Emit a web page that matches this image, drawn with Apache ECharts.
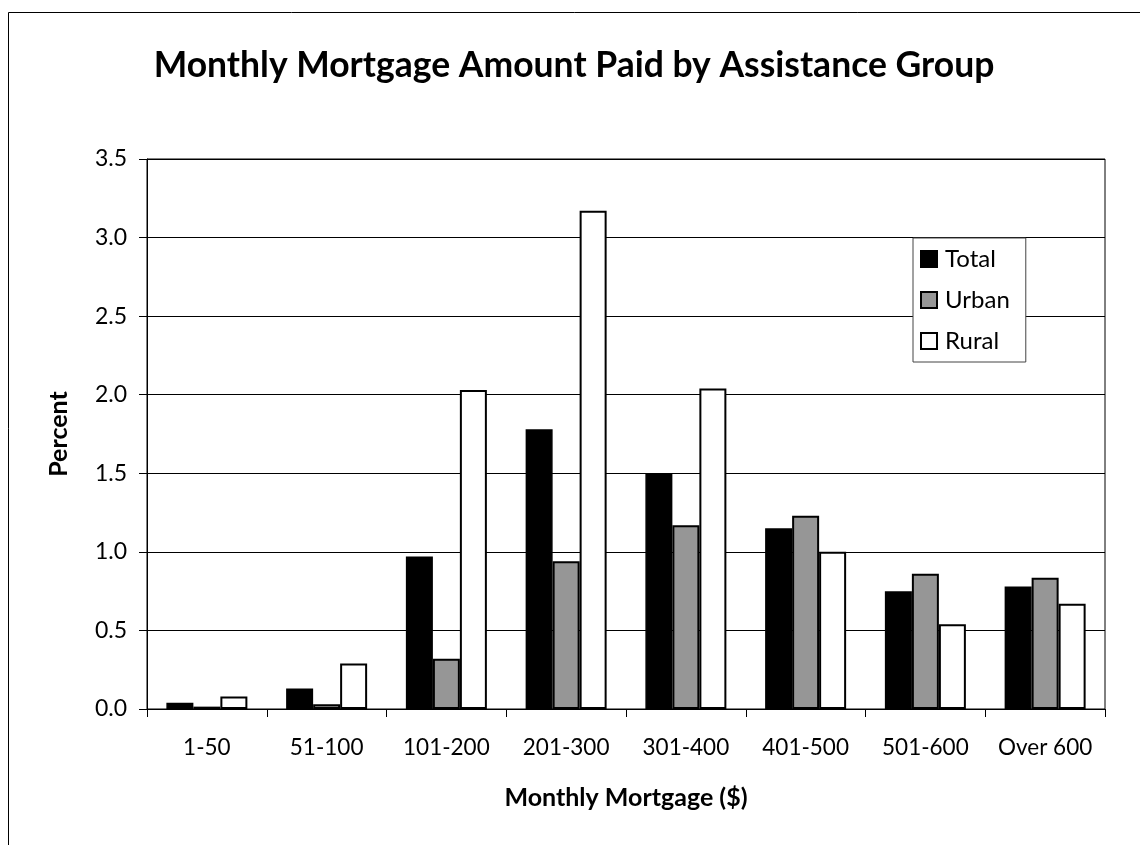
<!DOCTYPE html>
<html>
<head>
<meta charset="utf-8">
<script src="https://cdn.jsdelivr.net/npm/echarts@6/dist/echarts.min.js"></script>
<style>
html,body{margin:0;padding:0;background:#fff;}
#chart{width:1140px;height:845px;}
</style>
</head>
<body>
<div id="chart"></div>
<script>
var categories = ['1-50','51-100','101-200','201-300','301-400','401-500','501-600','Over 600'];
var totalValues = [0.04, 0.13, 0.97, 1.78, 1.50, 1.15, 0.75, 0.78];
var urbanValues = [0.015, 0.03, 0.32, 0.94, 1.17, 1.23, 0.86, 0.835];
var ruralValues = [0.08, 0.29, 2.03, 3.17, 2.04, 1.00, 0.54, 0.67];
var yTicks = ['0.0','0.5','1.0','1.5','2.0','2.5','3.0','3.5'];

var FONT = 'Lato';
var chart = echarts.init(document.getElementById('chart'), null, {renderer:'canvas'});
chart.setOption({
  backgroundColor: '#fff',
  animation: false,
  textStyle: {fontFamily: FONT, color: '#000'},
  title: {
    text: 'Monthly Mortgage Amount Paid by Assistance Group',
    left: 569, top: 43, textAlign: 'center',
    textStyle: {fontFamily: FONT, fontWeight: 'bold', fontSize: 35.5, color: '#000'}
  },
  graphic: [
    {type:'line', shape:{x1:8.5,y1:12.5,x2:1140,y2:12.5}, style:{stroke:'#000',lineWidth:1}},
    {type:'line', shape:{x1:8.5,y1:12.5,x2:8.5,y2:845}, style:{stroke:'#000',lineWidth:1}}
  ],
  legend: {
    orient: 'vertical',
    left: 913, top: 238,
    padding: [9, 16, 9, 7],
    itemGap: 17,
    itemWidth: 16, itemHeight: 16,
    icon: 'rect',
    borderColor: '#444', borderWidth: 1,
    backgroundColor: '#fff',
    textStyle: {fontFamily: FONT, fontSize: 24, color: '#000', padding: [0,0,0,3]},
    data: ['Total','Urban','Rural']
  },
  grid: {
    left: 147, top: 159, right: 35, bottom: 136,
    show: true, borderColor: '#000', borderWidth: 1, backgroundColor: '#fff'
  },
  xAxis: {
    type: 'category',
    data: categories,
    name: 'Monthly Mortgage ($)',
    nameLocation: 'middle',
    nameGap: 76,
    nameTextStyle: {fontFamily: FONT, fontWeight: 'bold', fontSize: 25, color: '#000'},
    axisLine: {lineStyle: {color: '#000', width: 1}},
    axisTick: {show: true, interval: 0, length: 8, lineStyle: {color: '#000'}},
    axisLabel: {interval: 0, margin: 27, fontFamily: FONT, fontSize: 22.5, color: '#000'}
  },
  yAxis: {
    type: 'value',
    min: 0, max: 3.5, interval: 0.5,
    name: 'Percent',
    nameLocation: 'middle',
    nameGap: 76,
    nameRotate: 90,
    nameTextStyle: {fontFamily: FONT, fontWeight: 'bold', fontSize: 25, color: '#000'},
    axisLine: {show: true, lineStyle: {color: '#000', width: 1}},
    axisTick: {show: true, length: 8, lineStyle: {color: '#000'}},
    axisLabel: {margin: 20, fontFamily: FONT, fontSize: 23, color: '#000',
      formatter: function(v){ return yTicks[Math.round(v/0.5)] || v.toFixed(1); }},
    splitLine: {show: true, lineStyle: {color: '#000', width: 1}}
  },
  series: [
    {name:'Total', type:'bar', data: totalValues, barWidth: 27, barGap: '0%',
     itemStyle:{color:'#000', borderColor:'#000', borderWidth:1.5}},
    {name:'Urban', type:'bar', data: urbanValues, barWidth: 27, barGap: '0%',
     itemStyle:{color:'#969696', borderColor:'#000', borderWidth:2}},
    {name:'Rural', type:'bar', data: ruralValues, barWidth: 27, barGap: '0%',
     itemStyle:{color:'#fff', borderColor:'#000', borderWidth:2}}
  ]
});
</script>
</body>
</html>
